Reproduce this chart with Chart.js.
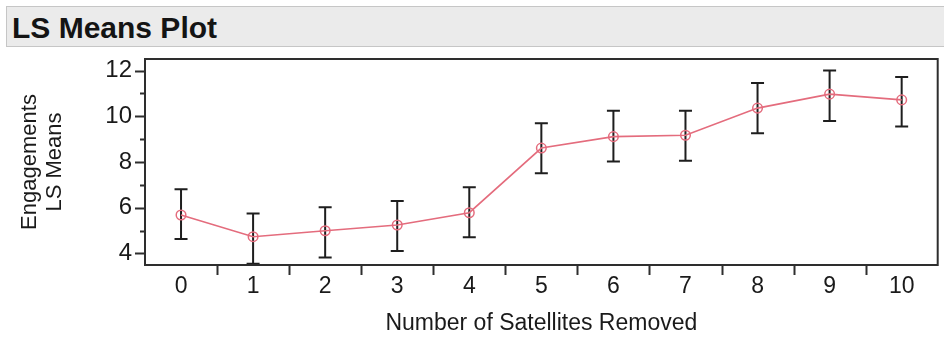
<!DOCTYPE html>
<html>
<head>
<meta charset="utf-8">
<script src="https://cdn.jsdelivr.net/npm/chart.js@4.4.1/dist/chart.umd.min.js"></script>
<style>
  html, body { margin: 0; padding: 0; background: #ffffff; }
  #wrap { position: relative; width: 944px; height: 337px; overflow: hidden; background: #fff; }
  #titlebar {
    position: absolute; left: 6px; top: 6px; width: 940px; height: 41px;
    background: #ebebeb; border: 1px solid #c6c6c6; box-sizing: border-box;
  }
  #titletext {
    position: absolute; left: 12px; top: 13px; line-height: 30px;
    font-family: 'Liberation Sans', Arial, sans-serif; font-weight: bold; font-size: 30px;
    color: #141414; white-space: nowrap;
  }
  canvas { position: absolute; left: 0; top: 0; }
</style>
</head>
<body>
<div id="wrap">
  <canvas id="c" width="944" height="337"></canvas>
  <div id="titlebar"></div>
  <div id="titletext">LS Means Plot</div>
</div>
<script>
// ---- data ----
const categories = ['0', '1', '2', '3', '4', '5', '6', '7', '8', '9', '10'];
const lsMeans    = [5.68, 4.73, 4.99, 5.24, 5.78, 8.61, 9.11, 9.17, 10.36, 10.97, 10.72];
const upperBound = [6.81, 5.75, 6.02, 6.29, 6.89, 9.70, 10.24, 10.24, 11.46, 12.01, 11.72];
const lowerBound = [4.63, 3.55, 3.82, 4.10, 4.70, 7.51, 8.02, 8.05, 9.26, 9.80, 9.55];
const yTickValues = [4, 5, 6, 7, 8, 9, 10, 11, 12];
const yLabelValues = [4, 6, 8, 10, 12];
const xAxisTitle = 'Number of Satellites Removed';
const yAxisTitle = ['Engagements', 'LS Means'];

Chart.defaults.font.family = "'Liberation Sans', Arial, sans-serif";
Chart.defaults.color = '#1a1a1a';

const framePlugin = {
  id: 'frameAndTicks',
  beforeDatasetsDraw(chart) {
    const ctx = chart.ctx;
    const x = chart.scales.x, y = chart.scales.y;
    // error bars
    ctx.save();
    ctx.strokeStyle = '#1e1e1e';
    ctx.lineWidth = 2;
    const cap = 6.5;
    for (let i = 0; i < categories.length; i++) {
      const px = x.getPixelForValue(i);
      const pt = y.getPixelForValue(upperBound[i]);
      const pb = y.getPixelForValue(lowerBound[i]);
      ctx.beginPath();
      ctx.moveTo(px, pt); ctx.lineTo(px, pb);
      ctx.moveTo(px - cap, pt); ctx.lineTo(px + cap, pt);
      ctx.moveTo(px - cap, pb); ctx.lineTo(px + cap, pb);
      ctx.stroke();
    }
    ctx.restore();
  },
  afterDraw(chart) {
    const ctx = chart.ctx;
    const a = chart.chartArea;
    const x = chart.scales.x, y = chart.scales.y;
    ctx.save();
    ctx.strokeStyle = '#2e2e2e';
    ctx.lineWidth = 2;
    ctx.strokeRect(a.left, a.top, a.right - a.left, a.bottom - a.top);
    // y ticks
    ctx.beginPath();
    yTickValues.forEach(v => {
      const py = Math.round(y.getPixelForValue(v)) + 0.5;
      const len = (v % 2 === 0) ? 10 : 5;
      ctx.moveTo(a.left - len, py); ctx.lineTo(a.left, py);
    });
    // x ticks at category boundaries
    for (let i = 0; i < categories.length - 1; i++) {
      const px = Math.round((x.getPixelForValue(i) + x.getPixelForValue(i + 1)) / 2) + 0.5;
      ctx.moveTo(px, a.bottom); ctx.lineTo(px, a.bottom + 10);
    }
    ctx.stroke();
    ctx.restore();
  }
};

new Chart(document.getElementById('c'), {
  type: 'line',
  data: {
    labels: categories,
    datasets: [{
      data: lsMeans,
      borderColor: '#e46c7d',
      borderWidth: 1.6,
      pointStyle: 'circle',
      pointRadius: 4.8,
      pointBorderWidth: 1.5,
      pointBorderColor: '#e46c7d',
      pointBackgroundColor: 'rgba(0,0,0,0)',
      tension: 0,
      fill: false
    }]
  },
  options: {
    responsive: false,
    animation: false,
    layout: { padding: { top: 59, right: 2, bottom: 0, left: 0 } },
    plugins: { legend: { display: false }, tooltip: { enabled: false }, title: { display: false } },
    scales: {
      x: {
        type: 'category',
        offset: true,
        grid: { display: false, drawTicks: false },
        border: { display: false },
        ticks: { font: { size: 23 }, padding: 8, color: '#1a1a1a', maxRotation: 0, autoSkip: false },
        title: { display: true, text: xAxisTitle, font: { size: 23 }, padding: { top: 0, bottom: 0 }, color: '#1a1a1a' },
        afterFit(scale) { scale.height = 72; }
      },
      y: {
        type: 'linear',
        min: 3.49,
        max: 12.51,
        grid: { display: false, drawTicks: false },
        border: { display: false },
        afterBuildTicks(scale) { scale.ticks = yLabelValues.map(v => ({ value: v })); },
        ticks: { font: { size: 24 }, padding: 13, color: '#1a1a1a' },
        title: { display: true, text: yAxisTitle, font: { size: 22, lineHeight: 1.15 }, padding: { top: 17, bottom: 0 }, color: '#1a1a1a' },
        afterFit(scale) { scale.width = 145; }
      }
    }
  },
  plugins: [framePlugin]
});
</script>
</body>
</html>
